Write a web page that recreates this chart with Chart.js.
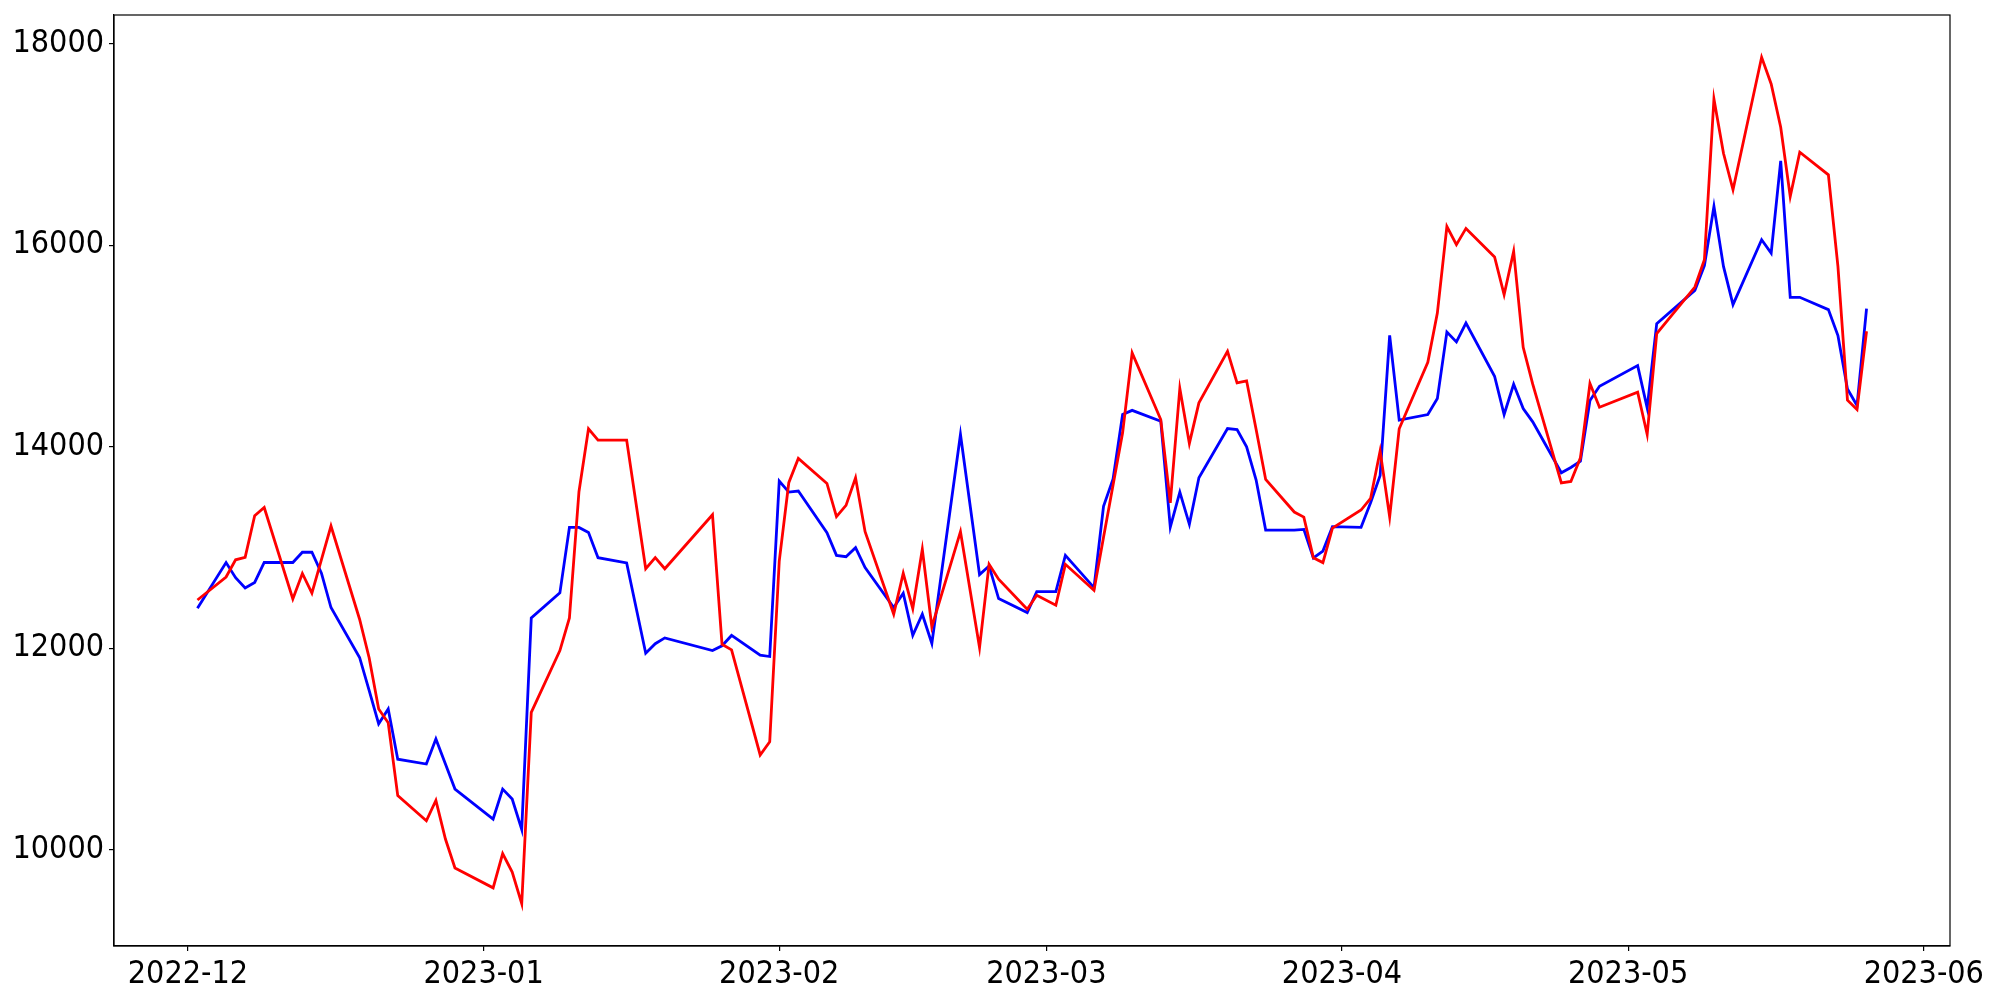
<!DOCTYPE html>
<html lang="en">

<head>
    <meta charset="UTF-8">
    <script src="https://cdn.jsdelivr.net/npm/chart.js@4.4.0/dist/chart.umd.min.js"></script>
    <title>Two series</title>
    <style>
        body { margin: 0; background: #fff; }
    </style>
</head>

<body>

    <canvas id="myChart" width="2000" height="1000"></canvas>

    <script>
        // trading days
        const dates = [
            '2022-12-02', '2022-12-05', '2022-12-06', '2022-12-07', '2022-12-08', '2022-12-09',
            '2022-12-12', '2022-12-13', '2022-12-14', '2022-12-15', '2022-12-16',
            '2022-12-19', '2022-12-20', '2022-12-21', '2022-12-22', '2022-12-23',
            '2022-12-26', '2022-12-27', '2022-12-28', '2022-12-29',
            '2023-01-02', '2023-01-03', '2023-01-04', '2023-01-05', '2023-01-06',
            '2023-01-09', '2023-01-10', '2023-01-11', '2023-01-12', '2023-01-13',
            '2023-01-16', '2023-01-18', '2023-01-19', '2023-01-20',
            '2023-01-25', '2023-01-26', '2023-01-27', '2023-01-30', '2023-01-31',
            '2023-02-01', '2023-02-02', '2023-02-03', '2023-02-06', '2023-02-07', '2023-02-08',
            '2023-02-09', '2023-02-10', '2023-02-13', '2023-02-14', '2023-02-15', '2023-02-16',
            '2023-02-17', '2023-02-20', '2023-02-22', '2023-02-23', '2023-02-24',
            '2023-02-27', '2023-02-28', '2023-03-02', '2023-03-03',
            '2023-03-06', '2023-03-07', '2023-03-08', '2023-03-09', '2023-03-10',
            '2023-03-13', '2023-03-14', '2023-03-15', '2023-03-16', '2023-03-17',
            '2023-03-20', '2023-03-21', '2023-03-22', '2023-03-23', '2023-03-24',
            '2023-03-27', '2023-03-28', '2023-03-29', '2023-03-30', '2023-03-31',
            '2023-04-03', '2023-04-04', '2023-04-05', '2023-04-06', '2023-04-07',
            '2023-04-10', '2023-04-11', '2023-04-12', '2023-04-13', '2023-04-14',
            '2023-04-17', '2023-04-18', '2023-04-19', '2023-04-20', '2023-04-21',
            '2023-04-24', '2023-04-25', '2023-04-26', '2023-04-27', '2023-04-28',
            '2023-05-02', '2023-05-03', '2023-05-04',
            '2023-05-08', '2023-05-09', '2023-05-10', '2023-05-11', '2023-05-12',
            '2023-05-15', '2023-05-16', '2023-05-17', '2023-05-18', '2023-05-19',
            '2023-05-22', '2023-05-23', '2023-05-24', '2023-05-25', '2023-05-26'
        ];

        const redValues = [
            12478, 12706, 12877, 12901, 13314, 13396,
            12488, 12741, 12546, 12879, 13212,
            12287, 11905, 11396, 11259, 10536,
            10287, 10488, 10106, 9819,
            9621, 9962, 9778, 9464, 11362,
            11976, 12300, 13553, 14177, 14065,
            14065, 12788, 12898, 12788,
            13324, 12038, 11983, 10940, 11070,
            12865, 13642, 13883, 13635, 13305, 13417,
            13691, 13156, 12337, 12743, 12393, 12981,
            12211, 13156, 12006, 12832, 12684,
            12386, 12525, 12426, 12832,
            12574, 13100, 13620, 14137, 14930,
            14269, 13443, 14577, 14032, 14435,
            14947, 14633, 14653, 14170, 13675,
            13351, 13301, 12898, 12849, 13192,
            13371, 13486, 13958, 13304, 14177,
            14837, 15326, 16185, 16004, 16166,
            15882, 15508, 15938, 14986, 14620,
            13641, 13655, 13889, 14626, 14391,
            14540, 14121, 15122,
            15584, 15855, 17451, 16912, 16549,
            17864, 17600, 17170, 16483, 16922,
            16698, 15789, 14461, 14368, 15145
        ];

        const blueValues = [
            12396, 12850, 12700, 12597, 12652, 12850,
            12850, 12952, 12952, 12744, 12403,
            11908, 11580, 11249, 11396, 10898,
            10850, 11099, 10850, 10601,
            10304, 10601, 10502, 10201, 12300,
            12549, 13198, 13198, 13147, 12898,
            12846, 11949, 12044, 12102,
            11976, 12024, 12126, 11930, 11917,
            13658, 13549, 13559, 13146, 12921, 12908,
            12997, 12799, 12403, 12545, 12128, 12337,
            12046, 14121, 12730, 12816, 12492,
            12353, 12561, 12561, 12921,
            12601, 13407, 13680, 14319, 14360,
            14253, 13202, 13549, 13229, 13691,
            14180, 14170, 13999, 13668, 13172,
            13172, 13179, 12895, 12964, 13206,
            13199, 13443, 13715, 15105, 14263,
            14319, 14477, 15138, 15039, 15227,
            14699, 14319, 14619, 14378, 14246,
            13741, 13793, 13856, 14457, 14600,
            14804, 14385, 15221,
            15551, 15796, 16384, 15789, 15409,
            16053, 15921, 16837, 15482, 15482,
            15360, 15102, 14573, 14408, 15370
        ];

        const xTickLabels = ['2022-12', '2023-01', '2023-02', '2023-03', '2023-04', '2023-05', '2023-06'];
        const yTickValues = [10000, 12000, 14000, 16000, 18000];

        const toTime = s => Date.parse(s + (s.length === 7 ? '-01' : '') + 'T00:00:00Z');

        const times = dates.map(toTime);
        const xSpan = times[times.length - 1] - times[0];
        const xMin = times[0] - 0.05 * xSpan;
        const xMax = times[times.length - 1] + 0.05 * xSpan;

        const allValues = redValues.concat(blueValues);
        const yLo = Math.min(...allValues), yHi = Math.max(...allValues);
        const yMin = yLo - 0.05 * (yHi - yLo);
        const yMax = yHi + 0.05 * (yHi - yLo);

        const toPoints = values => values.map((v, i) => ({ x: times[i], y: v }));

        const tickFont = { family: '"DejaVu Sans Condensed", "DejaVu Sans", sans-serif', size: 32 };

        // matplotlib style box round the plot area
        const frame = {
            id: 'frame',
            afterDraw(chart) {
                const { ctx, chartArea: a } = chart;
                ctx.save();
                ctx.strokeStyle = '#000';
                ctx.lineWidth = 1.2;
                ctx.strokeRect(a.left, a.top, a.right - a.left, a.bottom - a.top);
                ctx.restore();
            }
        };

        const chart = document.getElementById('myChart').getContext('2d');

        new Chart(chart, {
            type: 'line',
            data: {
                datasets: [{
                    data: toPoints(redValues),
                    borderColor: '#ff0000',
                    borderWidth: 2.8,
                    pointRadius: 0,
                    tension: 0,
                    fill: false
                }, {
                    data: toPoints(blueValues),
                    borderColor: '#0000ff',
                    borderWidth: 2.8,
                    pointRadius: 0,
                    tension: 0,
                    fill: false
                }]
            },
            options: {
                responsive: false,
                animation: false,
                devicePixelRatio: 1,
                layout: {
                    padding: { left: 0, top: 15, right: 50, bottom: 0 }
                },
                plugins: {
                    legend: { display: false },
                    tooltip: { enabled: false }
                },
                scales: {
                    x: {
                        type: 'linear',
                        min: xMin,
                        max: xMax,
                        afterBuildTicks: scale => {
                            scale.ticks = xTickLabels.map(t => ({ value: toTime(t) }));
                        },
                        afterFit: scale => {
                            scale.height = 54;
                            scale.paddingLeft = 0;
                            scale.paddingRight = 0;
                        },
                        grid: {
                            drawOnChartArea: false,
                            tickLength: 5,
                            color: '#000',
                            lineWidth: 1.2
                        },
                        border: { color: '#000', width: 1.2 },
                        ticks: {
                            autoSkip: false,
                            maxRotation: 0,
                            padding: 4,
                            color: '#000',
                            font: tickFont,
                            callback: (value, index) => xTickLabels[index]
                        }
                    },
                    y: {
                        type: 'linear',
                        min: yMin,
                        max: yMax,
                        afterBuildTicks: scale => {
                            scale.ticks = yTickValues.map(v => ({ value: v }));
                        },
                        afterFit: scale => {
                            scale.width = 114;
                            scale.paddingTop = 0;
                            scale.paddingBottom = 0;
                        },
                        grid: {
                            drawOnChartArea: false,
                            tickLength: 5,
                            color: '#000',
                            lineWidth: 1.2
                        },
                        border: { color: '#000', width: 1.2 },
                        ticks: {
                            padding: 5,
                            color: '#000',
                            font: tickFont,
                            callback: value => String(value)
                        }
                    }
                }
            },
            plugins: [frame]
        });
    </script>

</body>

</html>
